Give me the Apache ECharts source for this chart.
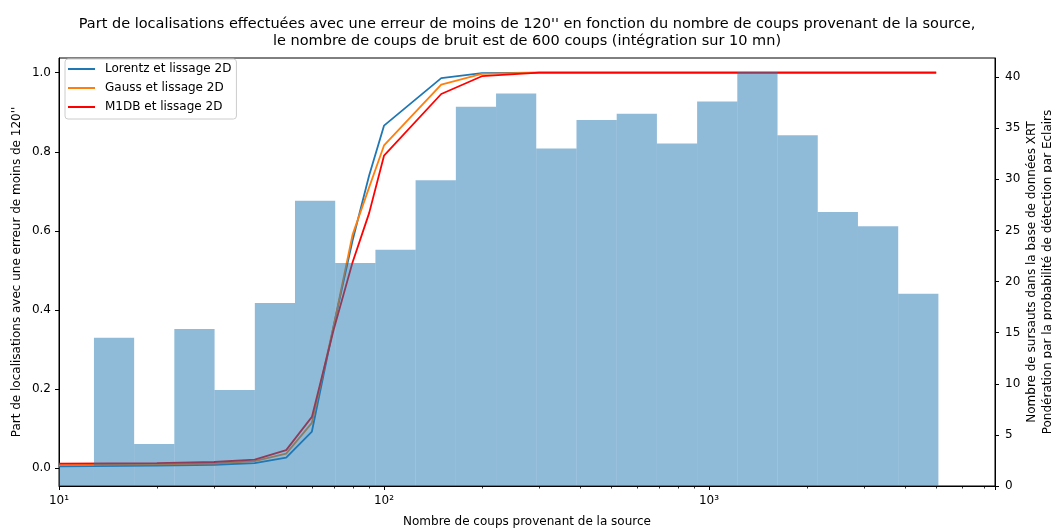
<!DOCTYPE html>
<html>
<head>
<meta charset="utf-8">
<script src="https://cdn.jsdelivr.net/npm/echarts@6/dist/echarts.min.js"></script>
<style>
html,body{margin:0;padding:0;background:#fff;}
#chart{width:1052px;height:530px;}
</style>
</head>
<body>
<div id="chart"></div>
<script>
// ---- Data ----
const titleText = "Part de localisations effectuées avec une erreur de moins de 120'' en fonction du nombre de coups provenant de la source,\nle nombre de coups de bruit est de 600 coups (intégration sur 10 mn)";
const xAxisName = "Nombre de coups provenant de la source";
const yLeftName = "Part de localisations avec une erreur de moins de 120''";
const yRightName = "Nombre de sursauts dans la base de données XRT\nPondération par la probabilité de détection par Eclairs";

const seriesNames = ["Lorentz et lissage 2D", "Gauss et lissage 2D", "M1DB et lissage 2D"];
const nCounts = [10, 20, 30, 40, 50, 60, 70, 80, 90, 100, 150, 200, 300, 500, 1000, 2000, 5000];
const lorentz = [0.005, 0.007, 0.009, 0.013, 0.027, 0.093, 0.36, 0.575, 0.74, 0.866, 0.986, 0.999, 1, 1, 1, 1, 1];
const gauss   = [0.008, 0.010, 0.012, 0.018, 0.037, 0.115, 0.36, 0.59, 0.71, 0.816, 0.970, 0.997, 1, 1, 1, 1, 1];
const m1db    = [0.012, 0.013, 0.016, 0.022, 0.046, 0.130, 0.35, 0.52, 0.645, 0.79, 0.946, 0.991, 1, 1, 1, 1, 1];

const binEdges = [9.634, 12.81, 17.03, 22.64, 30.11, 40.05, 53.23, 70.77, 94.11, 125.1, 166.4, 221.2, 294.1, 391.1, 520.0, 691.4, 919.3, 1222, 1625, 2161, 2873, 3821, 5080];
const binCounts = [2.0, 14.5, 4.1, 15.35, 9.4, 17.9, 27.9, 21.8, 23.1, 29.9, 37.1, 38.4, 33.0, 35.8, 36.4, 33.5, 37.6, 40.5, 34.3, 26.8, 25.4, 18.8];

const xMajorTicks = [10, 100, 1000];
const xMajorLabels = ["10¹", "10²", "10³"];
const xMinorTicks = [20, 30, 40, 50, 60, 70, 80, 90, 200, 300, 400, 500, 600, 700, 800, 900, 2000, 3000, 4000, 5000, 6000, 7000];
const yLeftTicks = [0, 0.2, 0.4, 0.6, 0.8, 1.0];
const yRightTicks = [0, 5, 10, 15, 20, 25, 30, 35, 40];

// ---- Build ----
const FONT = "DejaVu Sans";
const histData = binCounts.map((c, i) => [binEdges[i], binEdges[i + 1], c]);
const minorData = xMinorTicks.map(v => [v, 0]);

function renderHist(params, api) {
  const p0 = api.coord([api.value(0), 0]);
  const p1 = api.coord([api.value(1), api.value(2)]);
  const cs = params.coordSys;
  const r = echarts.graphic.clipRectByRect(
    {x: p0[0], y: p1[1], width: p1[0] - p0[0], height: p0[1] - p1[1]},
    {x: cs.x, y: cs.y, width: cs.width, height: cs.height});
  if (!r) return null;
  return {type: 'rect', shape: r, style: {fill: 'rgba(31,119,180,0.5)'}};
}
function renderMinor(params, api) {
  const p = api.coord([api.value(0), 0]);
  const cs = params.coordSys;
  const yb = cs.y + cs.height;
  return {type: 'line', shape: {x1: Math.round(p[0]) + 0.5, y1: yb, x2: Math.round(p[0]) + 0.5, y2: yb + 2.5},
          style: {stroke: '#000', lineWidth: 0.8}};
}

const chart = echarts.init(document.getElementById('chart'), null, {renderer: 'canvas'});
const lineColors = ['#1f77b4', '#ff7f0e', '#ff0000'];
const lineData = [lorentz, gauss, m1db];

const option = {
  animation: false,
  textStyle: {fontFamily: FONT},
  title: {
    text: titleText, left: 527, top: 16, textAlign: 'center', padding: 0,
    textStyle: {fontFamily: FONT, fontSize: 14.5, fontWeight: 'normal', color: '#000', lineHeight: 16.5}
  },
  legend: {
    data: seriesNames, orient: 'vertical', left: 65, top: 59,
    icon: 'rect', itemWidth: 27, itemHeight: 2,
    padding: [3, 5, 5, 3], itemGap: 5,
    backgroundColor: 'rgba(255,255,255,0.8)', borderColor: '#ccc', borderWidth: 1, borderRadius: 3,
    textStyle: {fontFamily: FONT, fontSize: 12, color: '#000', lineHeight: 14, padding: [0, 0, 0, 5]}
  },
  grid: {left: 59, top: 58, width: 936, height: 428, show: true, borderColor: '#000', borderWidth: 1,
         backgroundColor: 'transparent', outerBoundsMode: 'none', containLabel: false},
  xAxis: {
    type: 'log', logBase: 10, min: 10, max: 7586,
    name: xAxisName, nameLocation: 'middle', nameGap: 30, nameMoveOverlap: false,
    nameTextStyle: {fontFamily: FONT, fontSize: 12, color: '#000', verticalAlign: 'top'},
    axisLine: {onZero: false, lineStyle: {color: '#000'}},
    axisTick: {show: true, length: 4, lineStyle: {color: '#000'}},
    axisLabel: {
      color: '#000', fontFamily: FONT, fontSize: 12, margin: 9,
      formatter: v => { const i = xMajorTicks.indexOf(Math.round(v)); return i >= 0 ? xMajorLabels[i] : ''; }
    },
    splitLine: {show: false}
  },
  yAxis: [{
    type: 'value', min: -0.0447, max: 1.037, position: 'left',
    name: yLeftName, nameLocation: 'middle', nameGap: 36, nameMoveOverlap: false,
    nameTextStyle: {fontFamily: FONT, fontSize: 12, color: '#000'},
    axisLine: {show: true, onZero: false, lineStyle: {color: '#000'}},
    axisTick: {show: true, length: 4, lineStyle: {color: '#000'}, customValues: yLeftTicks},
    axisLabel: {color: '#000', fontFamily: FONT, fontSize: 12, margin: 8, customValues: yLeftTicks, formatter: v => v.toFixed(1)},
    splitLine: {show: false}
  }, {
    type: 'value', min: 0, max: 41.86, position: 'right',
    name: yRightName, nameLocation: 'middle', nameGap: 29, nameMoveOverlap: false,
    nameTextStyle: {fontFamily: FONT, fontSize: 12, color: '#000', lineHeight: 16},
    axisLine: {show: true, onZero: false, lineStyle: {color: '#000'}},
    axisTick: {show: true, length: 4, lineStyle: {color: '#000'}, customValues: yRightTicks},
    axisLabel: {color: '#000', fontFamily: FONT, fontSize: 12, margin: 10, customValues: yRightTicks, formatter: v => String(v)},
    splitLine: {show: false}
  }],
  series: [
    ...seriesNames.map((n, k) => ({
      name: n, type: 'line', xAxisIndex: 0, yAxisIndex: 0, z: 2,
      symbol: 'none', showSymbol: false,
      data: nCounts.map((x, i) => [x, lineData[k][i]]),
      lineStyle: {color: lineColors[k], width: 1.8}, itemStyle: {color: lineColors[k]}
    })),
    {
      name: 'hist', type: 'custom', xAxisIndex: 0, yAxisIndex: 1, z: 3, silent: true,
      renderItem: renderHist, data: histData, encode: {x: [0, 1], y: 2}
    },
    {
      name: 'minorTicks', type: 'custom', xAxisIndex: 0, yAxisIndex: 0, z: 5, silent: true, clip: false,
      renderItem: renderMinor, data: minorData, encode: {x: 0, y: 1}
    }
  ]
};
chart.setOption(option);
</script>
</body>
</html>
